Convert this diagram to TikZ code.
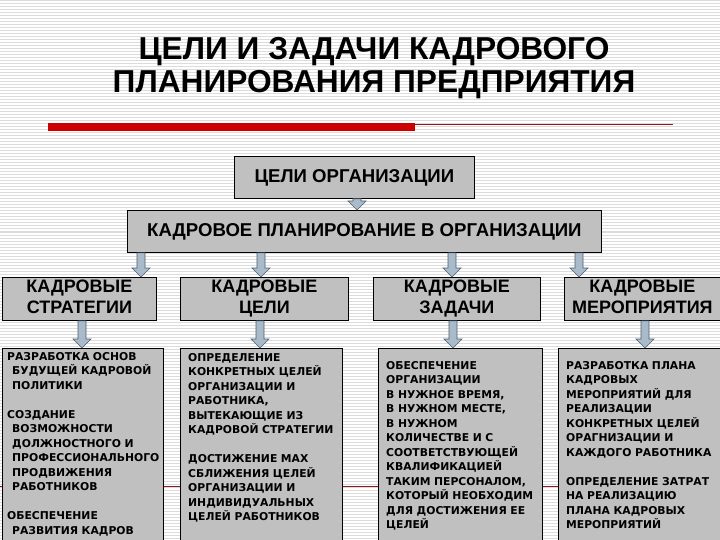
\documentclass[tikz,border=0pt]{standalone}
\usepackage{fontspec}
\setmainfont{Liberation Sans}
\newfontfamily\smallfont{DejaVu Sans}
\usetikzlibrary{calc}
\definecolor{boxgray}{HTML}{C0C0C0}
\definecolor{arrowfill}{HTML}{A9BACB}
\definecolor{arrowline}{HTML}{4F5F70}
\definecolor{redbar}{HTML}{CC0000}
\definecolor{darkred}{HTML}{8B1A1A}
\definecolor{stripe}{HTML}{DCDCDC}
\newcommand\barrow[3]{%
  \path[arrowsty] let \p1=(#2), \p2=(#3) in
    ({#1pt-4pt},\y1) -- ({#1pt+4pt},\y1) -- ({#1pt+4pt},\y2+9pt) --
    ({#1pt+9pt},\y2+9pt) -- ({#1pt},\y2) -- ({#1pt-9pt},\y2+9pt) --
    ({#1pt-4pt},\y2+9pt) -- cycle;}
\begin{document}
\begin{tikzpicture}[x=1pt,y=-1pt,
  box/.style={draw=black, fill=boxgray, line width=0.8pt, inner sep=0pt, anchor=north west},
  toplabel/.style={font=\bfseries\fontsize{18.6}{21}\selectfont},
  midlabel/.style={align=center, font=\bfseries\fontsize{18}{21.5}\selectfont},
  small/.style={anchor=north west, inner sep=0pt, text width=170pt, align=left,
    font=\smallfont\bfseries\fontsize{10.8}{14.5}\selectfont},
  arrowsty/.style={draw=arrowline, fill=arrowfill, line width=0.6pt, line join=miter},
  title/.style={font=\bfseries\fontsize{31.7}{34}\selectfont, inner sep=0pt}]
\useasboundingbox (0,0) rectangle (720,540);
\clip (0,0) rectangle (720,540);
% background
\fill[white] (0,0) rectangle (720,540);
\foreach \yy in {1,4,...,540} \draw[stripe, line width=1pt] (0,\yy) -- (720,\yy);
% title
\node[title] (t1) at (374,52) {ЦЕЛИ И ЗАДАЧИ КАДРОВОГО};
\node[title] (t2) at (374,85) {ПЛАНИРОВАНИЯ ПРЕДПРИЯТИЯ};
\fill[redbar] (48,123) rectangle (415,131);
\draw[darkred, line width=0.8pt] (415,124) -- (673,124);
\draw[darkred, line width=0.8pt] (0,486) -- (720,486);
% boxes
\node[box, minimum width=240pt, minimum height=42pt, toplabel] (co) at (234,156) {ЦЕЛИ ОРГАНИЗАЦИИ};
\node[box, minimum width=474pt, minimum height=42pt, toplabel] (kp) at (127,210) {КАДРОВОЕ ПЛАНИРОВАНИЕ В ОРГАНИЗАЦИИ};
\node[box, minimum width=154pt, minimum height=41pt, midlabel] (s1) at (2,277) {\strut КАДРОВЫЕ\\\strut СТРАТЕГИИ};
\node[box, minimum width=168pt, minimum height=41pt, midlabel] (s2) at (180,277) {\strut КАДРОВЫЕ\\\strut ЦЕЛИ};
\node[box, minimum width=167pt, minimum height=41pt, midlabel] (s3) at (373,277) {\strut КАДРОВЫЕ\\\strut ЗАДАЧИ};
\node[box, minimum width=156pt, minimum height=41pt, midlabel] (s4) at (564,277) {\strut КАДРОВЫЕ\\\strut МЕРОПРИЯТИЯ};
\node[box, minimum width=161pt, minimum height=200pt] (b1) at (2,348) {};
\node[box, minimum width=162pt, minimum height=200pt] (b2) at (180,348) {};
\node[box, minimum width=164pt, minimum height=200pt] (b3) at (378,348) {};
\node[box, minimum width=170pt, minimum height=200pt] (b4) at (558,348) {};
% texts
\node[small] (x1) at ([shift={(5,2)}]b1.north west) {\strut РАЗРАБОТКА ОСНОВ\\
\hspace*{5pt}БУДУЩЕЙ КАДРОВОЙ\\
\hspace*{5pt}ПОЛИТИКИ\\[14.5pt]
СОЗДАНИЕ\\
\hspace*{5pt}ВОЗМОЖНОСТИ\\
\hspace*{5pt}ДОЛЖНОСТНОГО И\\
\hspace*{5pt}ПРОФЕССИОНАЛЬНОГО\\
\hspace*{5pt}ПРОДВИЖЕНИЯ\\
\hspace*{5pt}РАБОТНИКОВ\\[14.5pt]
ОБЕСПЕЧЕНИЕ\\
\hspace*{5pt}РАЗВИТИЯ КАДРОВ};
\node[small] (x2) at ([shift={(8,3)}]b2.north west) {\strut ОПРЕДЕЛЕНИЕ\\
КОНКРЕТНЫХ ЦЕЛЕЙ\\
ОРГАНИЗАЦИИ И\\
РАБОТНИКА,\\
ВЫТЕКАЮЩИЕ ИЗ\\
КАДРОВОЙ СТРАТЕГИИ\\[14.5pt]
ДОСТИЖЕНИЕ МАХ\\
СБЛИЖЕНИЯ ЦЕЛЕЙ\\
ОРГАНИЗАЦИИ И\\
ИНДИВИДУАЛЬНЫХ\\
ЦЕЛЕЙ РАБОТНИКОВ};
\node[small] (x3) at ([shift={(8,11)}]b3.north west) {\strut ОБЕСПЕЧЕНИЕ\\
ОРГАНИЗАЦИИ\\
В НУЖНОЕ ВРЕМЯ,\\
В НУЖНОМ МЕСТЕ,\\
В НУЖНОМ\\
КОЛИЧЕСТВЕ И С\\
СООТВЕТСТВУЮЩЕЙ\\
КВАЛИФИКАЦИЕЙ\\
ТАКИМ ПЕРСОНАЛОМ,\\
КОТОРЫЙ НЕОБХОДИМ\\
ДЛЯ ДОСТИЖЕНИЯ ЕЕ\\
ЦЕЛЕЙ};
\node[small] (x4) at ([shift={(8,11)}]b4.north west) {\strut РАЗРАБОТКА ПЛАНА\\
КАДРОВЫХ\\
МЕРОПРИЯТИЙ ДЛЯ\\
РЕАЛИЗАЦИИ\\
КОНКРЕТНЫХ ЦЕЛЕЙ\\
ОРАГНИЗАЦИИ И\\
КАЖДОГО РАБОТНИКА\\[14.5pt]
ОПРЕДЕЛЕНИЕ ЗАТРАТ\\
НА РЕАЛИЗАЦИЮ\\
ПЛАНА КАДРОВЫХ\\
МЕРОПРИЯТИЙ};
% arrows
\barrow{357}{co.south}{kp.north}
\barrow{141}{kp.south}{s1.north}
\barrow{261}{kp.south}{s2.north}
\barrow{452}{kp.south}{s3.north}
\barrow{579}{kp.south}{s4.north}
\barrow{82}{s1.south}{b1.north}
\barrow{260}{s2.south}{b2.north}
\barrow{453}{s3.south}{b3.north}
\barrow{645}{s4.south}{b4.north}
\end{tikzpicture}
\end{document}
